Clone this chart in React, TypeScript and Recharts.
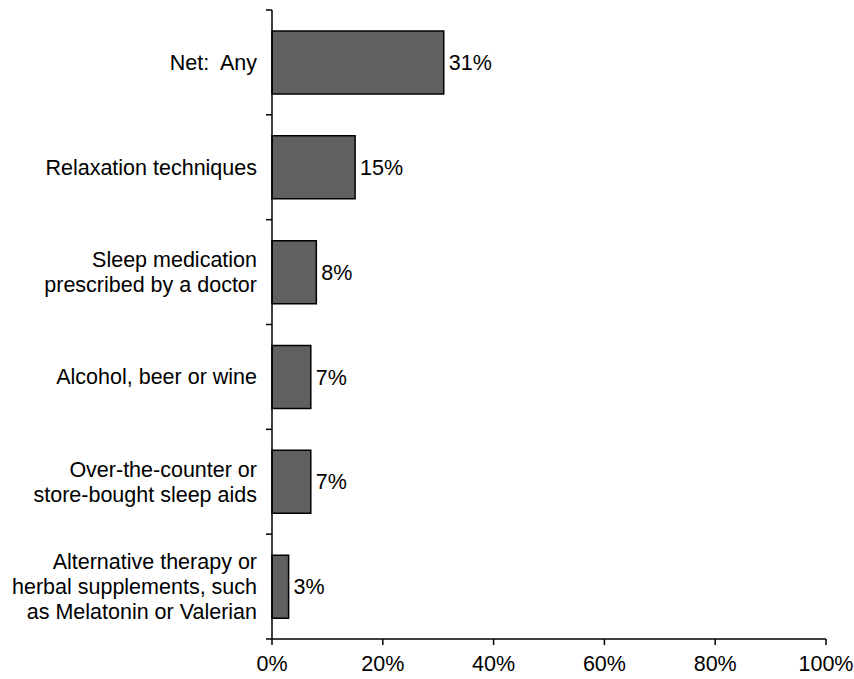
import { BarChart, Bar, XAxis, YAxis, LabelList } from "recharts";

const categories = [
  "Net:  Any",
  "Relaxation techniques",
  "Sleep medication\nprescribed by a doctor",
  "Alcohol, beer or wine",
  "Over-the-counter or\nstore-bought sleep aids",
  "Alternative therapy or\nherbal supplements, such\nas Melatonin or Valerian",
];
const values = [31, 15, 8, 7, 7, 3];
const xTicks = [0, 20, 40, 60, 80, 100];

const W = 854;
const H = 679;
const M = { top: 10, right: 28, left: 0, bottom: 0 };
const X_AXIS_H = 40;
const Y_AXIS_W = 272;
const FONT = "'Liberation Sans', Arial, sans-serif";
const FS = 21.5;

const data = categories.map((name, i) => ({ name, value: values[i] }));
const band = (H - M.top - M.bottom - X_AXIS_H) / categories.length;

function CatTick(props: any) {
  const { x, y, payload, index } = props;
  const lines = String(payload.value).split("\n");
  const lh = 25;
  const start = -((lines.length - 1) * lh) / 2;
  const ax = x;
  return (
    <g>
      <line x1={ax - 6} x2={ax} y1={y - band / 2} y2={y - band / 2} stroke="#000" strokeWidth={1.5} />
      {index === categories.length - 1 && (
        <line x1={ax - 6} x2={ax} y1={y + band / 2} y2={y + band / 2} stroke="#000" strokeWidth={1.5} />
      )}
      <text
        x={ax - 15}
        y={y}
        textAnchor="end"
        fontSize={FS}
        fontFamily={FONT}
        fill="#000"
        style={{ whiteSpace: "pre" }}
      >
        {lines.map((l, i) => (
          <tspan key={i} x={ax - 15} y={y + start + i * lh} dy="0.35em">
            {l}
          </tspan>
        ))}
      </text>
    </g>
  );
}

export default function App() {
  return (
    <div style={{ position: "absolute", left: 0, top: 0, width: W, height: H, background: "#fff" }}>
      <BarChart width={W} height={H} data={data} layout="vertical" margin={M} barCategoryGap="20%">
        <XAxis
          type="number"
          domain={[0, 100]}
          ticks={xTicks}
          tickFormatter={(v: number) => `${v}%`}
          height={X_AXIS_H}
          stroke="#000"
          strokeWidth={1.5}
          tickSize={6}
          tickMargin={11}
          tick={{ fill: "#000", fontSize: FS, fontFamily: FONT }}
          interval={0}
        />
        <YAxis
          type="category"
          dataKey="name"
          width={Y_AXIS_W}
          stroke="#000"
          strokeWidth={1.5}
          tickLine={false}
          tickSize={0}
          tickMargin={0}
          tick={<CatTick />}
          interval={0}
        />
        <Bar dataKey="value" fill="#606060" stroke="#000" strokeWidth={1.5} isAnimationActive={false}>
          <LabelList
            dataKey="value"
            position="right"
            offset={5}
            formatter={(v: any) => `${v}%`}
            fill="#000"
            fontSize={FS}
            fontFamily={FONT}
          />
        </Bar>
      </BarChart>
    </div>
  );
}
